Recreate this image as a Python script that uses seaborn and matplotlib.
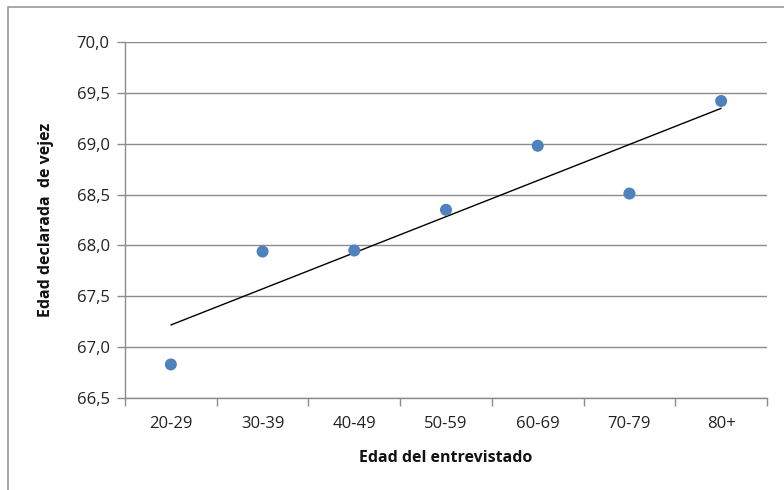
import numpy as np
import matplotlib
matplotlib.use("Agg")
import matplotlib.pyplot as plt
import seaborn as sns
from matplotlib.patches import Rectangle
from matplotlib.ticker import FixedLocator, FuncFormatter

# Datos
grupos = ['20-29', '30-39', '40-49', '50-59', '60-69', '70-79', '80+']
edad_vejez = [66.83, 67.94, 67.95, 68.35, 68.98, 68.51, 69.42]
y_ticks = [66.5, 67.0, 67.5, 68.0, 68.5, 69.0, 69.5, 70.0]

sns.set_theme(style="white")
plt.rcParams['font.family'] = ['Open Sans', 'DejaVu Sans']

pos = np.arange(len(grupos))

fig = plt.figure(figsize=(7.84, 4.9), dpi=100)
ax = fig.add_axes([125 / 784, 1 - 398 / 490, 642 / 784, 356 / 490])

# Marco exterior del grafico
fig.patches.append(Rectangle((8 / 784, -0.05), 1.2, 1 - 7 / 490 + 0.05,
                             transform=fig.transFigure, fill=False,
                             edgecolor='#9a9a9a', linewidth=1.2))

# Linea de tendencia
sns.regplot(x=pos, y=edad_vejez, ax=ax, ci=None, scatter=False, truncate=True,
            line_kws={'color': 'black', 'linewidth': 1.0})

# Puntos
sns.scatterplot(x=pos, y=edad_vejez, ax=ax, color='#4F81BD', s=75,
                edgecolor='none', zorder=3)

ax.set_xlim(-0.5, len(grupos) - 0.5)
ax.set_ylim(66.5, 70.0)

ax.set_yticks(y_ticks)
ax.yaxis.set_major_formatter(FuncFormatter(lambda v, p: f"{v:.1f}".replace('.', ',')))
ax.yaxis.grid(True, color='#8c8c8c', linewidth=1.0)
ax.set_axisbelow(True)

ax.set_xticks(pos)
ax.set_xticklabels(grupos)
ax.xaxis.set_minor_locator(FixedLocator(np.arange(-0.5, len(grupos), 1.0)))
ax.tick_params(axis='x', which='major', length=0, pad=13, labelsize=12, labelcolor='#222222')
ax.tick_params(axis='x', which='minor', length=6, width=1, color='#8c8c8c', direction='out', bottom=True)
ax.tick_params(axis='y', which='major', length=6, width=1, color='#8c8c8c', direction='out', left=True,
               labelsize=12, labelcolor='#222222', pad=5)

for side in ['top', 'right']:
    ax.spines[side].set_visible(False)
for side in ['left', 'bottom']:
    ax.spines[side].set_color('#8c8c8c')
    ax.spines[side].set_linewidth(1.0)

ax.set_xlabel('Edad del entrevistado', fontsize=11.5, fontweight='bold', labelpad=13, color='#111111')
ax.set_ylabel('Edad declarada  de vejez', fontsize=11.5, fontweight='bold', labelpad=16, color='#111111')

fig.savefig('out.png', dpi=100)
